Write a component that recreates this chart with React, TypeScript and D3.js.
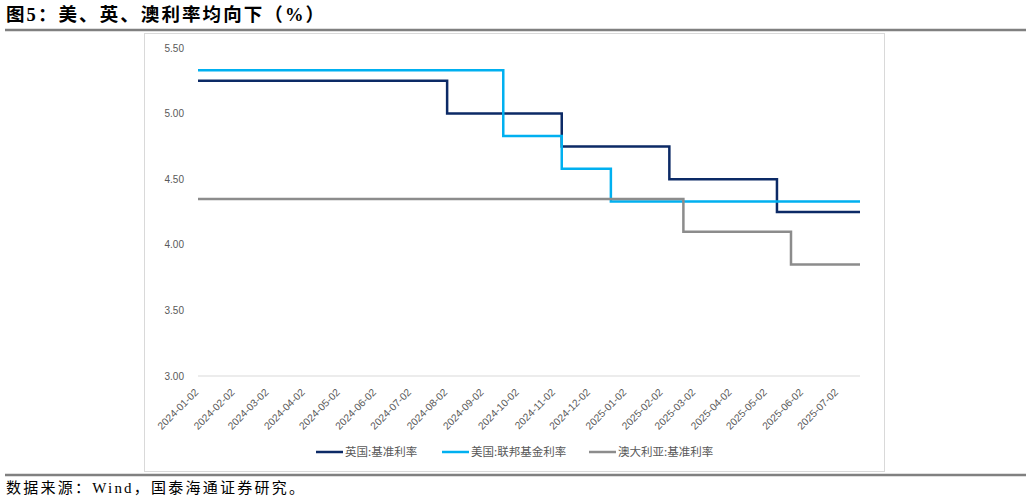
import React from "react";
import * as d3 from "d3";

const W = 1032;
const H = 502;

const xTickLabels = [
  "2024-01-02","2024-02-02","2024-03-02","2024-04-02","2024-05-02","2024-06-02",
  "2024-07-02","2024-08-02","2024-09-02","2024-10-02","2024-11-02","2024-12-02",
  "2025-01-02","2025-02-02","2025-03-02","2025-04-02","2025-05-02","2025-06-02","2025-07-02",
];
const yTicks = [3.0, 3.5, 4.0, 4.5, 5.0, 5.5];

const startDate = "2024-01-02";
const endDate = "2025-07-21";

const ukDates = ["2024-01-02", "2024-08-02", "2024-11-08", "2025-02-08", "2025-05-11"];
const ukRates = [5.25, 5.0, 4.75, 4.5, 4.25];

const usDates = ["2024-01-02", "2024-09-19", "2024-11-08", "2024-12-20"];
const usRates = [5.33, 4.83, 4.58, 4.33];

const auDates = ["2024-01-02", "2025-02-20", "2025-05-23"];
const auRates = [4.35, 4.1, 3.85];

const seriesNames = ["英国:基准利率", "美国:联邦基金利率", "澳大利亚:基准利率"];
const seriesColors = ["#0c2a66", "#00b0f0", "#8c8c8c"];

const parse = d3.timeParse("%Y-%m-%d");

function buildSeries(dates: string[], rates: number[]) {
  const pts = dates.map((d, i) => ({ date: parse(d) as Date, v: rates[i] }));
  pts.push({ date: parse(endDate) as Date, v: rates[rates.length - 1] });
  return pts;
}

const allSeries = [
  buildSeries(ukDates, ukRates),
  buildSeries(usDates, usRates),
  buildSeries(auDates, auRates),
];

export default function App() {
  const x = d3
    .scaleTime()
    .domain([parse(startDate) as Date, parse(endDate) as Date])
    .range([198, 860]);
  const y = d3.scaleLinear().domain([3.0, 5.5]).range([376, 48]);

  const line = d3
    .line<{ date: Date; v: number }>()
    .x((d) => x(d.date))
    .y((d) => y(d.v))
    .curve(d3.curveStepAfter);

  const sans = "'Liberation Sans', 'Noto Sans CJK SC', sans-serif";
  const cjk = "'Noto Sans CJK SC', 'Liberation Sans', sans-serif";
  const serif = "'Liberation Serif', 'Noto Sans CJK SC', serif";

  const legendItems = [
    { x: 316, name: seriesNames[0], color: seriesColors[0] },
    { x: 442, name: seriesNames[1], color: seriesColors[1] },
    { x: 589, name: seriesNames[2], color: seriesColors[2] },
  ];

  return (
    <svg
      width={W}
      height={H}
      style={{ position: "absolute", left: 0, top: 0, background: "#fff" }}
    >
      <rect x={0} y={0} width={W} height={H} fill="#fff" />
      {/* title */}
      <text
        x={6}
        y={21}
        fontFamily={serif}
        fontWeight="bold"
        fontSize={18.5}
        fill="#000"
        textLength={318}
        lengthAdjust="spacing"
      >
        图5：美、英、澳利率均向下（%）
      </text>
      <line x1={5} x2={1026} y1={30} y2={30} stroke="#808080" strokeWidth={2.5} />

      {/* chart frame */}
      <rect x={144.5} y={33.5} width={740} height={438} fill="#fff" stroke="#d9d9d9" strokeWidth={1} />

      {/* y axis labels */}
      {yTicks.map((t) => (
        <text
          key={t}
          x={184}
          y={y(t)}
          dy="0.35em"
          textAnchor="end"
          fontFamily={sans}
          fontSize={10}
          fill="#595959"
        >
          {t.toFixed(2)}
        </text>
      ))}

      {/* baseline */}
      <line x1={198} x2={860} y1={y(3.0)} y2={y(3.0)} stroke="#d9d9d9" strokeWidth={1.2} />

      {/* x labels */}
      {xTickLabels.map((lab) => {
        const px = x(parse(lab) as Date);
        return (
          <text
            key={lab}
            transform={`translate(${px + 1},${393}) rotate(-45)`}
            textAnchor="end"
            fontFamily={sans}
            fontSize={10.3}
            fill="#595959"
          >
            {lab}
          </text>
        );
      })}

      {/* series */}
      {allSeries.map((s, i) => (
        <path
          key={i}
          d={line(s) || ""}
          fill="none"
          stroke={seriesColors[i]}
          strokeWidth={2.5}
          strokeLinejoin="miter"
        />
      ))}

      {/* legend */}
      {legendItems.map((it) => (
        <g key={it.name}>
          <line x1={it.x} x2={it.x + 27} y1={452} y2={452} stroke={it.color} strokeWidth={2.5} />
          <text x={it.x + 29} y={452} dy="0.35em" fontFamily={cjk} fontSize={11.5} fill="#595959">
            {it.name}
          </text>
        </g>
      ))}

      {/* bottom rule and source */}
      <line x1={5} x2={1026} y1={475} y2={475} stroke="#808080" strokeWidth={2.5} />
      <text
        x={6}
        y={493}
        fontFamily={serif}
        fontSize={15}
        fill="#000"
        textLength={298}
        lengthAdjust="spacing"
      >
        数据来源：Wind，国泰海通证券研究。
      </text>
    </svg>
  );
}
